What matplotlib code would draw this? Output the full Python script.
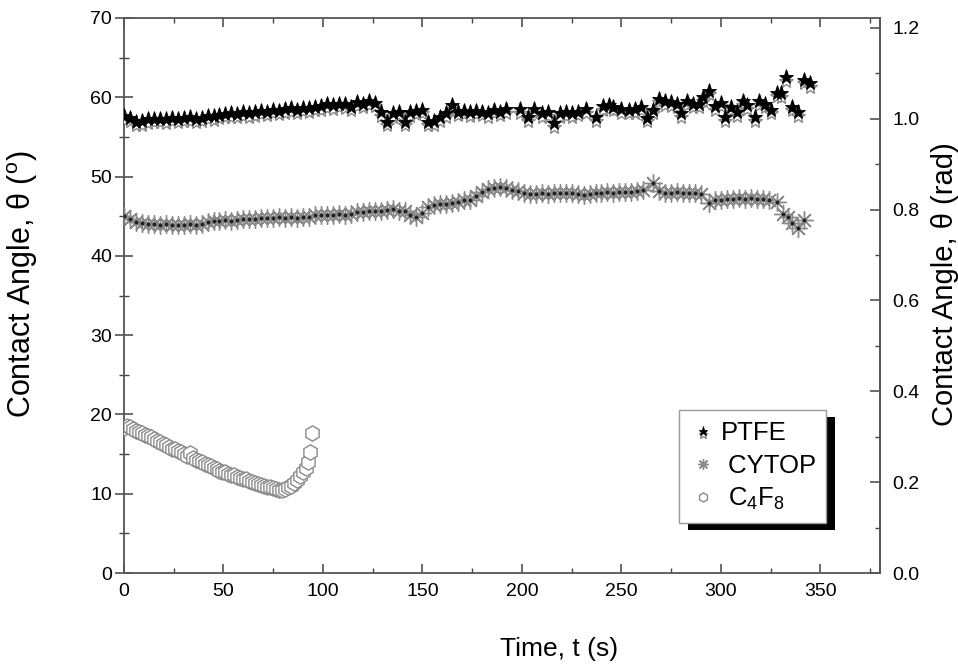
import numpy as np
import matplotlib
matplotlib.use("Agg")
import matplotlib.pyplot as plt
from matplotlib.legend_handler import HandlerLine2D, HandlerTuple
from matplotlib.transforms import Affine2D, ScaledTranslation, IdentityTransform
from matplotlib.patches import Rectangle
from matplotlib.ticker import MultipleLocator, FormatStrFormatter

plt.rcParams['font.family'] = ['Liberation Sans', 'DejaVu Sans']
plt.rcParams['mathtext.fontset'] = 'custom'
plt.rcParams['mathtext.rm'] = 'Liberation Sans'
plt.rcParams['mathtext.it'] = 'Liberation Sans:italic'

# ---- contact angle vs time (degrees) ----
ptfe_t = [0, 3, 6, 9, 12, 15, 18, 21, 24, 27, 30, 33, 36, 39, 42, 45, 48, 51, 54, 57,
          60, 63, 66, 69, 72, 75, 78, 81, 84, 87, 90, 93, 96, 99, 102, 105, 108, 111, 114, 117,
          120, 123, 126, 129, 132, 135, 138, 141, 144, 147, 150, 153, 156, 159, 162, 165, 168, 171, 174, 177,
          180, 183, 186, 189, 192, 199, 203, 206, 210, 213, 216, 219, 222, 225, 228, 232, 237, 241, 244, 246,
          250, 254, 257, 260, 263, 266, 269, 272, 275, 278, 280, 283, 286, 289, 291, 294, 297, 300, 302, 305,
          308, 311, 313, 317, 319, 322, 325, 328, 330, 333, 336, 339, 342, 345]
ptfe_deg = [57.6, 57.4, 56.9, 57.0, 57.2, 57.3, 57.3, 57.2, 57.4, 57.3, 57.4, 57.5, 57.3, 57.4, 57.7, 57.6, 57.8, 57.9, 58.0, 57.9,
            58.1, 58.0, 58.1, 58.3, 58.2, 58.4, 58.3, 58.5, 58.6, 58.4, 58.7, 58.6, 58.8, 58.9, 59.1, 59.0, 59.2, 59.1, 58.8, 59.4,
            59.2, 59.5, 59.3, 58.1, 56.9, 58.0, 58.2, 56.9, 58.1, 58.3, 58.4, 56.9, 57.0, 57.5, 58.0, 59.0, 58.2, 58.3, 58.1, 58.3,
            58.2, 58.0, 58.4, 58.2, 58.5, 58.5, 57.5, 58.5, 58.0, 58.1, 56.7, 58.0, 58.1, 58.0, 58.2, 58.5, 57.5, 58.9, 59.0, 58.8,
            58.5, 58.4, 58.5, 58.8, 57.4, 58.4, 59.8, 59.5, 59.4, 59.2, 58.0, 59.5, 59.2, 59.2, 60.0, 60.8, 58.9, 59.3, 57.5, 58.8,
            58.1, 59.5, 59.0, 57.5, 59.5, 59.2, 58.4, 60.6, 60.5, 62.5, 58.8, 58.1, 62.2, 61.8]

cytop_t = [0, 3, 6, 9, 12, 15, 18, 21, 24, 27, 30, 33, 36, 39, 42, 45, 48, 51, 54, 57,
           60, 63, 66, 69, 72, 75, 78, 81, 84, 87, 90, 93, 96, 99, 102, 105, 108, 111, 114, 117,
           120, 123, 126, 129, 132, 135, 138, 141, 144, 147, 150, 153, 156, 159, 162, 165, 168, 171, 174, 177,
           180, 183, 186, 189, 192, 195, 198, 201, 204, 207, 210, 213, 216, 219, 222, 225, 228, 231, 234, 237,
           240, 243, 246, 249, 252, 255, 258, 261, 266, 269, 272, 275, 278, 281, 284, 287, 290, 294, 297, 300,
           303, 306, 309, 312, 315, 318, 321, 324, 328, 331, 334, 336, 339, 342]
cytop_deg = [45.0, 44.6, 44.3, 44.1, 44.0, 44.0, 43.9, 44.0, 43.9, 43.9, 43.9, 44.0, 43.9, 44.0, 44.3, 44.4, 44.4, 44.5, 44.4, 44.5,
             44.6, 44.7, 44.7, 44.8, 44.8, 44.8, 44.9, 44.8, 44.9, 44.8, 44.9, 44.9, 45.1, 45.2, 45.1, 45.2, 45.3, 45.2, 45.3, 45.5,
             45.5, 45.6, 45.6, 45.7, 45.8, 45.9, 45.7, 45.6, 45.2, 44.9, 45.4, 46.2, 46.4, 46.5, 46.6, 46.7, 46.8, 47.0, 47.1, 47.6,
             48.1, 48.4, 48.6, 48.7, 48.5, 48.3, 48.2, 47.9, 47.8, 47.8, 47.9, 47.8, 47.9, 47.9, 47.9, 47.9, 47.8, 47.7, 47.8, 47.9,
             47.9, 48.0, 47.9, 48.0, 48.1, 48.1, 48.2, 48.3, 49.2, 48.2, 47.9, 47.9, 48.0, 47.9, 47.9, 47.9, 47.8, 46.7, 47.0, 47.1,
             47.2, 47.2, 47.3, 47.2, 47.3, 47.2, 47.2, 47.1, 46.8, 45.3, 44.9, 44.1, 43.5, 44.5]

c4f8_t = [0, 1.5, 3, 4.5, 6, 7.5, 9, 10.5, 12, 13.5, 15, 16.5, 18, 19.5, 21, 22.5, 24, 25.5, 27, 28.5,
          30, 31.5, 33, 34.5, 36, 37.5, 39, 40.5, 42, 43.5, 45, 46.5, 48, 49.5, 51, 52.5, 54, 55.5, 57, 58.5,
          60, 61.5, 63, 64.5, 66, 67.5, 69, 70.5, 72, 73.5, 75, 76.5, 78, 79.5, 81, 82.5, 84, 85.5, 87, 88.5,
          90, 91.5, 92.5, 93.5, 94.5]
c4f8_deg = [18.3, 18.6, 18.4, 18.1, 17.9, 17.8, 17.6, 17.4, 17.3, 17.1, 16.9, 16.7, 16.5, 16.3, 16.1, 15.9, 15.7, 15.6, 15.4, 15.2,
            15.0, 14.8, 15.1, 14.5, 14.3, 14.1, 14.0, 13.8, 13.6, 13.5, 13.3, 13.1, 12.9, 12.8, 12.7, 12.5, 12.4, 12.3, 12.1, 12.0,
            11.9, 11.8, 11.6, 11.5, 11.4, 11.2, 11.1, 11.0, 10.8, 10.8, 10.7, 10.6, 10.5, 10.5, 10.6, 10.8, 11.0, 11.3, 11.7, 12.2,
            12.8, 13.3, 14.0, 15.2, 17.6]

x_ticks = [0, 50, 100, 150, 200, 250, 300, 350]
y_ticks = [0, 10, 20, 30, 40, 50, 60, 70]
rad_ticks = [0.0, 0.2, 0.4, 0.6, 0.8, 1.0, 1.2]

fig = plt.figure(figsize=(9.58, 6.68), dpi=100)
ax = fig.add_axes([124 / 958, 95 / 668, 756 / 958, 555 / 668])

gray = '#8a8a8a'
shadow_shift = ScaledTranslation(0, -3.5 / 100, fig.dpi_scale_trans)

# PTFE: hollow gray star beneath a filled black star
ptfe_under, = ax.plot(ptfe_t, ptfe_deg, ls='none', marker='*', ms=11, mfc='white',
                      mec=gray, mew=1.0, transform=ax.transData + shadow_shift, zorder=3)
ptfe_top, = ax.plot(ptfe_t, ptfe_deg, ls='none', marker='*', ms=11, mfc='black',
                    mec='black', mew=0.6, zorder=4)

# CYTOP: gray asterisks with dark cores
cytop, = ax.plot(cytop_t, cytop_deg, ls='none', marker=(8, 2, 0), ms=13, mec=gray,
                 mew=1.0, zorder=3)
ax.plot(cytop_t, cytop_deg, ls='none', marker='o', ms=2.8, mfc='#222222', mec='none', zorder=3.5)

# C4F8: hollow hexagons
c4f8, = ax.plot(c4f8_t, c4f8_deg, ls='none', marker='h', ms=11, mfc='white', mec=gray,
                mew=1.0, zorder=3)

ax.set_xlim(0, 380)
ax.set_ylim(0, 70)
ax.set_xticks(x_ticks)
ax.set_yticks(y_ticks)
ax.xaxis.set_minor_locator(MultipleLocator(25))
ax.yaxis.set_minor_locator(MultipleLocator(5))
ax.tick_params(axis='x', which='both', direction='in', top=True, bottom=True,
               labelsize=14, pad=7, color='#444444')
ax.tick_params(axis='x', which='major', length=6.5, width=1.1)
ax.tick_params(axis='x', which='minor', length=3.5, width=1.0)
ax.tick_params(axis='y', which='both', direction='inout', left=True, right=False,
               labelsize=14, pad=2, color='#444444')
ax.tick_params(axis='y', which='major', length=13, width=1.1)
ax.tick_params(axis='y', which='minor', length=7, width=1.0)

for sp in ax.spines.values():
    sp.set_color('#555555')
    sp.set_linewidth(1.3)

sec = ax.secondary_yaxis('right', functions=(np.deg2rad, np.rad2deg))
sec.set_yticks(rad_ticks)
sec.yaxis.set_minor_locator(MultipleLocator(0.1))
sec.yaxis.set_major_formatter(FormatStrFormatter('%.1f'))
sec.tick_params(axis='y', which='both', direction='in', labelsize=14, pad=9, color='#444444')
sec.tick_params(axis='y', which='major', length=7, width=1.1)
sec.tick_params(axis='y', which='minor', length=3.5, width=1.0)
sec.spines['right'].set_color('#555555')
sec.spines['right'].set_linewidth(1.3)

ax.set_xlabel('Time, t (s)', fontsize=19)
ax.xaxis.set_label_coords(0.575, -0.115)
ax.set_ylabel('Contact Angle, θ ($^{\\mathrm{o}}$)', fontsize=22, labelpad=36)
ax.yaxis.label.set_y(0.52)
sec.set_ylabel('Contact Angle, θ (rad)', fontsize=21, labelpad=8)
sec.yaxis.label.set_y(0.52)


class ShiftedLine(HandlerLine2D):
    def __init__(self, shift, **kw):
        super().__init__(**kw)
        self.shift = shift

    def create_artists(self, legend, orig_handle, xdescent, ydescent, width, height,
                       fontsize, trans):
        return super().create_artists(legend, orig_handle, xdescent, ydescent, width, height,
                                      fontsize, trans + Affine2D().translate(0, -self.shift))


leg = ax.legend([(ptfe_under, ptfe_top), cytop, c4f8],
                ['PTFE', ' CYTOP', ' C$_4$F$_8$'],
                handler_map={ptfe_under: ShiftedLine(2.5), tuple: HandlerTuple(ndivide=1)},
                loc='lower left', bbox_to_anchor=(0.734, 0.090), borderaxespad=0,
                fontsize=18.5, markerscale=0.6, handlelength=1.0, handletextpad=0.2,
                labelspacing=0.33, borderpad=0.42, fancybox=False, framealpha=1,
                edgecolor='#999999')
leg.get_frame().set_linewidth(1.0)
leg.set_zorder(6)

# solid black drop shadow behind the legend box
fig.canvas.draw()
bb = leg.get_window_extent()
shadow = Rectangle((bb.x0 + 9, bb.y0 - 7), bb.width, bb.height, facecolor='black',
                   edgecolor='none', transform=IdentityTransform(), zorder=5.5)
ax.add_artist(shadow)
shadow.set_clip_on(False)

fig.savefig('out.png', dpi=100)
